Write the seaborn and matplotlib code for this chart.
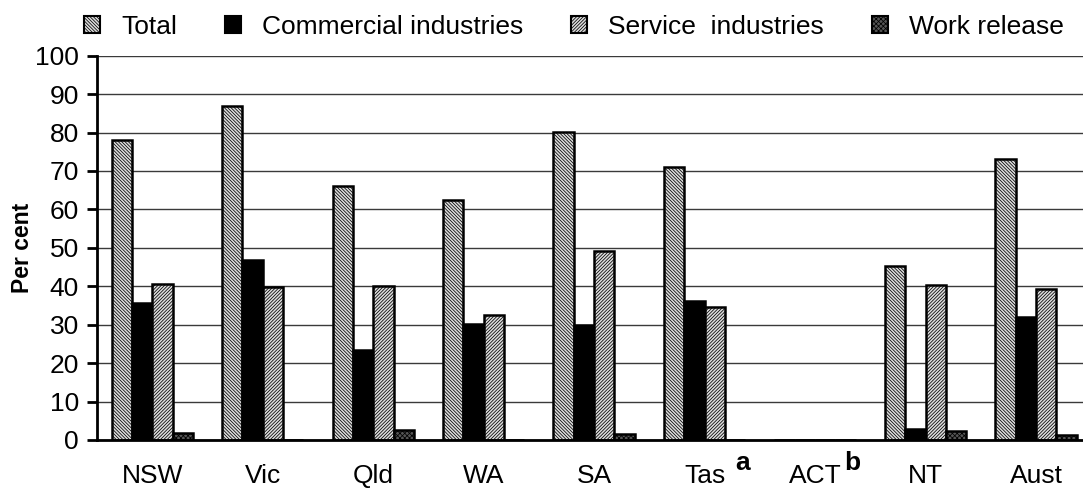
import pandas as pd
import matplotlib
matplotlib.use('Agg')
import matplotlib.pyplot as plt
import matplotlib.transforms as mtransforms
from matplotlib.patches import Patch
import seaborn as sns

# Data (per cent)
states = ['NSW', 'Vic', 'Qld', 'WA', 'SA', 'Tas', 'ACT', 'NT', 'Aust']
series_names = ['Total', 'Commercial industries', 'Service  industries', 'Work release']
total = [78.0, 86.9, 66.1, 62.5, 80.2, 71.0, 0, 45.4, 73.0]
commercial = [35.7, 46.9, 23.5, 30.3, 30.0, 36.2, 0, 2.9, 31.9]
service = [40.5, 39.8, 40.0, 32.5, 49.2, 34.7, 0, 40.2, 39.4]
work_release = [1.9, 0, 2.6, 0, 1.5, 0, 0, 2.4, 1.4]
footnotes = {'Tas': 'a', 'ACT': 'b'}

# long form table for seaborn
rows = []
for name, vals in zip(series_names, [total, commercial, service, work_release]):
    for st, v in zip(states, vals):
        rows.append({'state': st, 'series': name, 'value': v})
df = pd.DataFrame(rows)

sns.set_style('white')
plt.rcParams['font.family'] = ['Liberation Sans', 'DejaVu Sans']
plt.rcParams['text.color'] = 'black'
plt.rcParams['xtick.color'] = 'black'
plt.rcParams['ytick.color'] = 'black'
plt.rcParams['axes.labelcolor'] = 'black'
plt.rcParams['hatch.linewidth'] = 0.55

fills = ['#dcdcdc', 'black', '#dcdcdc', '#555555']
hatches = ['\\' * 10, '', '/' * 10, 'x' * 7]

fig = plt.figure(figsize=(10.83, 4.88), dpi=100)
ax = fig.add_axes([0.0896, 0.0984, 0.918, 0.7875])

sns.barplot(data=df, x='state', y='value', hue='series', order=states,
            hue_order=series_names, palette=fills, width=0.736,
            edgecolor='black', linewidth=1.8, saturation=1, ax=ax, legend=False)

for cont, h in zip(ax.containers, hatches):
    for bar in cont:
        bar.set_hatch(h)

ax.set_ylim(0, 100)
ax.set_xlim(-0.5, len(states) - 0.5)
ax.set_yticks(range(0, 101, 10))
ax.yaxis.grid(True, color='#3a3a3a', linewidth=1)
ax.set_axisbelow(True)

for side in ['top', 'right']:
    ax.spines[side].set_visible(False)
for side in ['left', 'bottom']:
    ax.spines[side].set_linewidth(2)
    ax.spines[side].set_color('black')

# category labels in the middle, tick marks between categories
ax.set_xticks(range(len(states)))
ax.set_xticklabels(states)
ax.set_xticks([i - 0.5 for i in range(len(states) + 1)], minor=True)
ax.tick_params(axis='x', which='major', length=0, pad=17, labelsize=19)
ax.tick_params(axis='x', which='minor', length=7, width=2, direction='out', color='black')
ax.tick_params(axis='y', length=7, width=2, direction='out', color='black', pad=6, labelsize=19, left=True)

ax.set_xlabel('')
ax.set_ylabel('Per cent', fontsize=16.5, fontweight='bold')
ax.yaxis.set_label_coords(-0.063, 0.5)

# footnote letters next to Tas and ACT
trans = mtransforms.blended_transform_factory(ax.transData, ax.transAxes)
for st, letter in footnotes.items():
    i = states.index(st)
    ax.text(i + 0.34, -0.06, letter, transform=trans, fontsize=19,
            fontweight='bold', ha='center', va='center')

handles = [Patch(facecolor=f, edgecolor='black', hatch=h, linewidth=1.5)
           for f, h in zip(fills, hatches)]
fig.legend(handles, series_names, loc='center', bbox_to_anchor=(0.53, 0.945),
           ncol=4, frameon=False, fontsize=19, handlelength=0.62, handleheight=0.62,
           handletextpad=0.8, columnspacing=1.8)

fig.savefig('out.png', dpi=100)
